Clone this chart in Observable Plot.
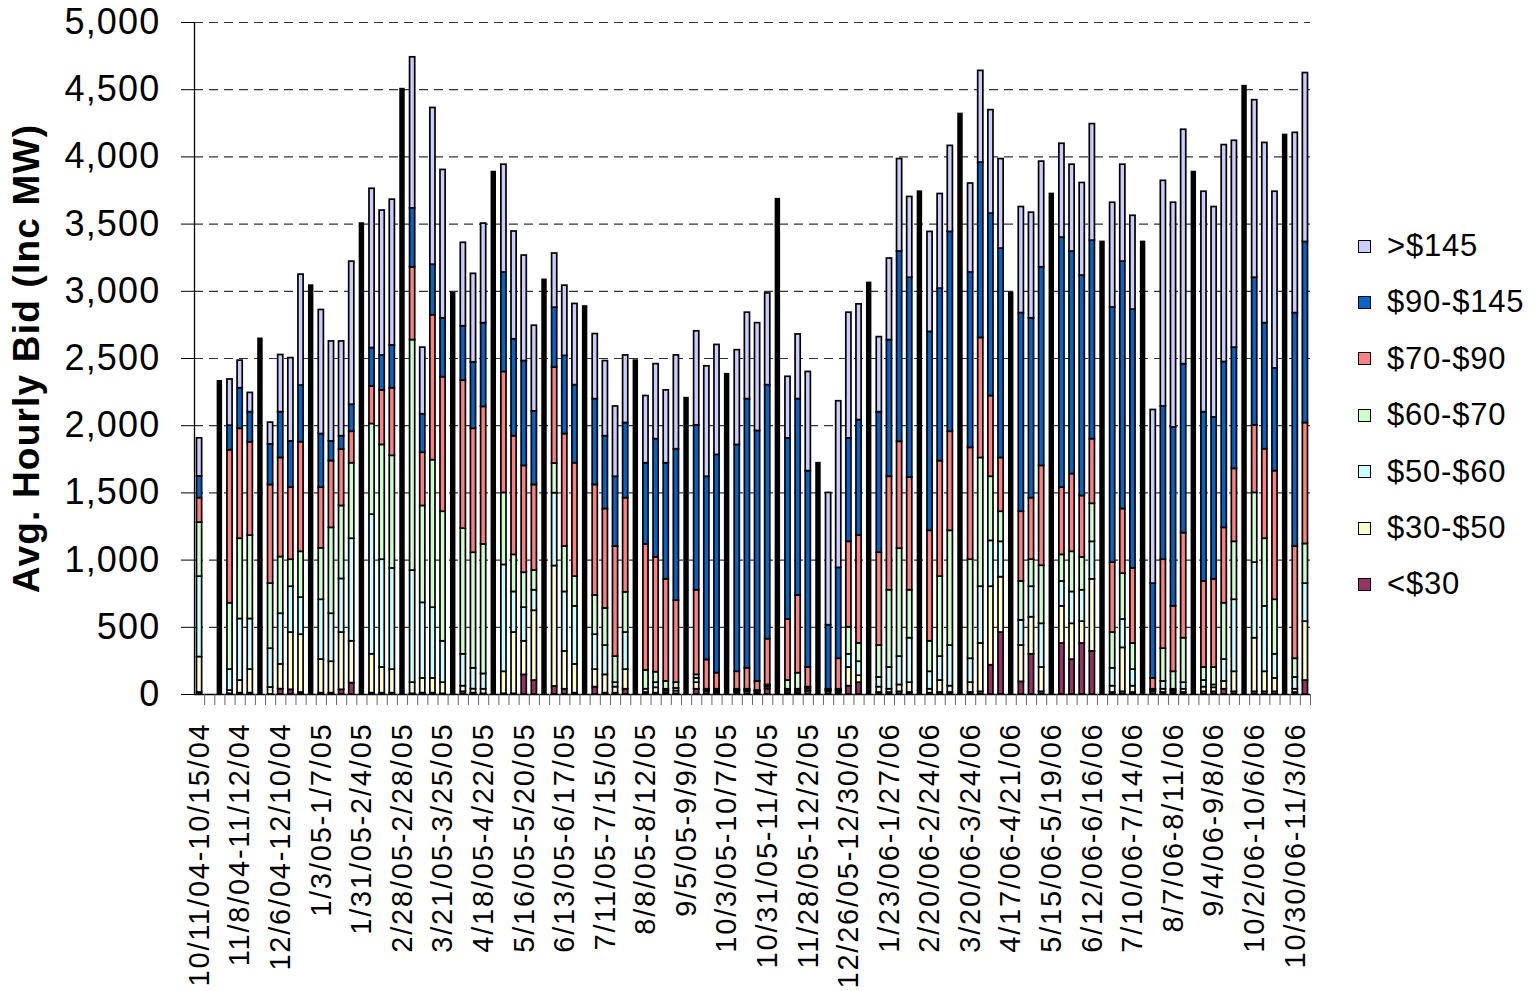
<!DOCTYPE html>
<html><head><meta charset="utf-8">
<script src="https://cdn.jsdelivr.net/npm/d3@7"></script>
<script src="https://cdn.jsdelivr.net/npm/@observablehq/plot@0.6"></script>
<style>
html,body{margin:0;padding:0;background:#fff;overflow:hidden;}
#wrap{position:relative;width:1537px;height:991px;overflow:hidden;font-family:"Liberation Sans",Arial,sans-serif;}
#wrap svg{position:absolute;left:0;top:0;}
g[aria-label="x-axis tick label"] text{letter-spacing:1.8px;}
g[aria-label="y-axis tick label"] text{letter-spacing:1.2px;}
g[aria-label="text"] text{letter-spacing:1.2px;}
#legend{position:absolute;left:1358px;top:0;}
.item{position:absolute;left:0;height:36px;line-height:36px;display:flex;align-items:center;white-space:nowrap;font-size:31px;letter-spacing:0.8px;color:#000;}
.sw{width:11px;height:11px;border:1.6px solid #000;margin-right:16px;flex:none;}
</style>
</head><body>
<div id="wrap"><div id="legend"></div></div>
<script>
const yTitle = "Avg. Hourly Bid (Inc MW)";
const tiers = ["<$30","$30-$50","$50-$60","$60-$70","$70-$90","$90-$145",">$145"];
const colors = ["#993366","#FFFFCC","#CCFFFF","#CCFFCC","#FF8080","#0066CC","#CCCCFF"];
const yTicks = [0,500,1000,1500,2000,2500,3000,3500,4000,4500,5000];
const weekIndex = d3.range(110);
const tickLabels = ["10/11/04-10/15/04","11/8/04-11/12/04","12/6/04-12/10/04","1/3/05-1/7/05","1/31/05-2/4/05","2/28/05-2/28/05","3/21/05-3/25/05","4/18/05-4/22/05","5/16/05-5/20/05","6/13/05-6/17/05","7/11/05-7/15/05","8/8/05-8/12/05","9/5/05-9/9/05","10/3/05-10/7/05","10/31/05-11/4/05","11/28/05-12/2/05","12/26/05-12/30/05","1/23/06-1/27/06","2/20/06-2/24/06","3/20/06-3/24/06","4/17/06-4/21/06","5/15/06-5/19/06","6/12/06-6/16/06","7/10/06-7/14/06","8/7/06-8/11/06","9/4/06-9/8/06","10/2/06-10/6/06","10/30/06-11/3/06"];

// MW per price tier, one value per week (null = breakdown not readable)
const below30 = [
15,null,null,5,10,10,null,0,40,35,
15,null,10,10,35,85,null,10,10,10,
null,5,10,10,5,null,20,10,5,null,
5,5,146,104,null,60,39,10,null,55,
10,10,39,null,5,10,10,5,null,39,
20,15,null,15,20,10,40,null,10,10,
25,null,20,15,62,88,null,15,15,20,
15,null,10,15,15,null,15,20,218,461,
null,94,299,20,null,380,260,380,321,null,
15,20,15,null,20,15,15,15,null,20,
20,39,20,null,20,20,20,null,15,104];
const from30to50 = [
264,null,null,24,94,175,null,52,184,426,
430,null,250,234,426,311,null,289,191,175,
null,83,110,110,83,null,42,30,34,null,
164,456,250,519,null,896,282,214,null,130,
136,45,146,null,10,40,15,20,null,49,
10,10,null,10,10,10,15,null,15,15,
15,null,10,12,139,52,null,40,24,51,
73,null,29,89,47,null,73,360,584,412,
null,270,276,181,null,276,266,162,536,null,
47,327,47,null,10,24,14,24,null,35,
30,58,149,null,399,149,100,null,24,438];
const from50to60 = [
598,null,null,156,458,377,null,289,377,341,
276,null,445,357,399,763,null,1039,802,753,
null,834,562,526,308,null,237,155,114,null,
795,302,250,153,null,542,442,432,null,260,
218,33,276,null,24,38,14,20,null,32,
5,7,null,7,5,5,8,null,14,14,
10,null,5,6,98,104,null,72,162,211,
331,null,130,178,302,null,178,422,341,263,
null,188,227,325,null,185,237,234,279,null,
133,211,123,null,5,58,10,49,null,49,
21,163,536,null,562,487,179,null,88,283];
const from60to70 = [
402,null,null,494,597,620,null,484,422,201,
341,null,383,639,543,562,null,675,854,838,
null,1715,721,1098,964,null,935,860,964,null,
536,276,260,146,null,221,338,221,null,292,
276,194,299,null,140,78,58,43,null,26,
4,7,null,7,4,5,8,null,65,120,
5,null,4,6,201,136,null,237,575,803,
357,null,227,595,854,null,737,958,477,224,
null,289,201,432,null,198,299,244,283,null,
266,341,195,null,4,244,130,331,null,97,
130,419,431,null,519,503,406,null,139,295];
const from70to90 = [
182,null,null,1139,818,695,null,734,737,536,
815,null,451,497,419,234,null,279,406,503,
null,542,396,1078,1001,null,1101,922,1023,null,
900,883,795,637,null,714,837,844,null,822,
740,819,701,null,938,854,760,610,null,630,
218,120,null,130,156,67,341,null,454,578,
146,null,0,227,636,802,null,691,844,795,
838,null,822,860,737,null,832,893,601,400,
null,519,458,743,null,500,578,457,481,null,
520,481,558,null,81,662,487,782,null,640,
656,561,543,null,503,666,957,null,835,900];
const from90to145 = [
162,null,null,182,302,224,null,302,341,344,
422,null,399,146,100,201,null,286,260,319,
null,438,286,376,438,null,405,494,623,null,
740,721,780,548,null,445,582,581,null,639,
542,519,559,null,604,880,864,1127,null,1227,
1363,1624,null,1688,2003,1864,1890,null,1348,1461,
1461,null,477,676,770,860,null,1046,1017,1416,
1487,null,1480,1283,1487,null,1305,1305,1357,1558,
null,1478,1338,1478,null,1861,1656,1640,1477,null,
1899,1841,1926,null,705,1140,1331,1257,null,1260,
1205,1234,902,null,1098,938,764,null,1737,1347];
const above145 = [
283,null,null,344,205,143,null,162,425,620,
825,null,923,744,705,1065,null,1185,1078,1084,
null,1124,496,1166,1104,null,621,659,741,null,
802,802,785,637,null,403,522,604,null,484,
559,523,503,null,500,558,542,698,null,699,
822,818,null,705,643,802,682,null,458,481,
738,null,984,1240,935,861,null,558,607,688,
601,null,744,704,640,null,662,682,770,666,
null,789,786,786,null,698,646,689,867,null,
779,721,698,null,1292,1679,1672,1744,null,1640,
1565,1614,1539,null,1321,1341,1315,null,1341,1257];
// weeks whose bar is only visible as a solid black column: total MW only
const unsplitTotal = [
null,null,2330,null,null,null,2646,null,null,null,
null,3042,null,null,null,null,3504,null,null,null,
4504,null,null,null,null,2987,null,null,null,3887,
null,null,null,null,3085,null,null,null,2887,null,
null,null,null,2484,null,null,null,null,2205,null,
null,null,2383,null,null,null,null,3685,null,null,
null,1721,null,null,null,null,3062,null,null,null,
null,3741,null,null,null,4319,null,null,null,null,
2987,null,null,null,3724,null,null,null,null,3367,
null,null,null,3367,null,null,null,null,3887,null,
null,null,null,4526,null,null,null,4163,null,null];

const series = [below30, from30to50, from50to60, from60to70, from70to90, from90to145, above145];
const segments = [];
weekIndex.forEach(w => {
  series.forEach((arr, k) => {
    if (arr[w] != null) segments.push({week: w, tier: tiers[k], value: arr[w]});
  });
});
const unsplit = weekIndex.filter(w => unsplitTotal[w] != null).map(w => ({week: w, total: unsplitTotal[w]}));
const labelWeeks = tickLabels.map((_, k) => weekIndex[k * 4]);
const labelByWeek = new Map(labelWeeks.map((w, k) => [w, tickLabels[k]]));

const W = 1537, H = 991, ML = 194, MR = 227, MT = 22, MB = 297;
const step = (W - ML - MR) / weekIndex.length;
const font = '"Liberation Sans", Arial, sans-serif';

const chart = Plot.plot({
  width: W, height: H,
  marginLeft: ML, marginRight: MR, marginTop: MT, marginBottom: MB,
  style: {fontFamily: font, background: "white", color: "#000"},
  x: {type: "band", domain: weekIndex, padding: 0, round: false},
  y: {domain: [0, 5000]},
  color: {domain: tiers, range: colors},
  marks: [
    Plot.gridY(yTicks.filter(d => d > 0), {stroke: "#333", strokeOpacity: 1, strokeWidth: 1.2, strokeDasharray: "9,6"}),
    Plot.barY(segments, {x: "week", y: "value", fill: "tier", stroke: "#000", strokeWidth: 1.7, insetLeft: 2.5, insetRight: 2.5}),
    Plot.barY(unsplit, {x: "week", y: "total", fill: "#000", stroke: "#000", strokeWidth: 1.7, insetLeft: 3.2, insetRight: 3.2}),
    Plot.ruleY([0], {stroke: "#000", strokeWidth: 1.3}),
    Plot.ruleX([weekIndex[0]], {y1: 0, y2: 5000, dx: -step / 2, stroke: "#000", strokeWidth: 1.3}),
    Plot.axisY(yTicks, {tickSize: 13, tickPadding: 21, tickFormat: d3.format(","), fontSize: 36, label: null, stroke: "#000"}),
    Plot.axisX(weekIndex, {tickSize: 11, dx: step / 2, tickFormat: () => "", stroke: "#666", label: null}),
    Plot.axisX(labelWeeks, {tickSize: 0, tickPadding: 28, tickRotate: -90, tickFormat: w => labelByWeek.get(w), fontSize: 29, label: null}),
    Plot.text([yTitle], {frameAnchor: "left", textAnchor: "middle", rotate: -90, dx: -167, fontSize: 37, fontWeight: "bold", fill: "#000"})
  ]
});
document.getElementById("wrap").prepend(chart);

const legend = document.getElementById("legend");
const rowCenter0 = 246, rowGap = 56.4;
tiers.slice().reverse().forEach((t, i) => {
  const k = tiers.indexOf(t);
  const item = document.createElement("div");
  item.className = "item";
  item.style.top = (rowCenter0 + i * rowGap - 18) + "px";
  const sw = document.createElement("div");
  sw.className = "sw";
  sw.style.background = colors[k];
  const tx = document.createElement("span");
  tx.textContent = t;
  item.append(sw, tx);
  legend.append(item);
});
</script>
</body></html>
